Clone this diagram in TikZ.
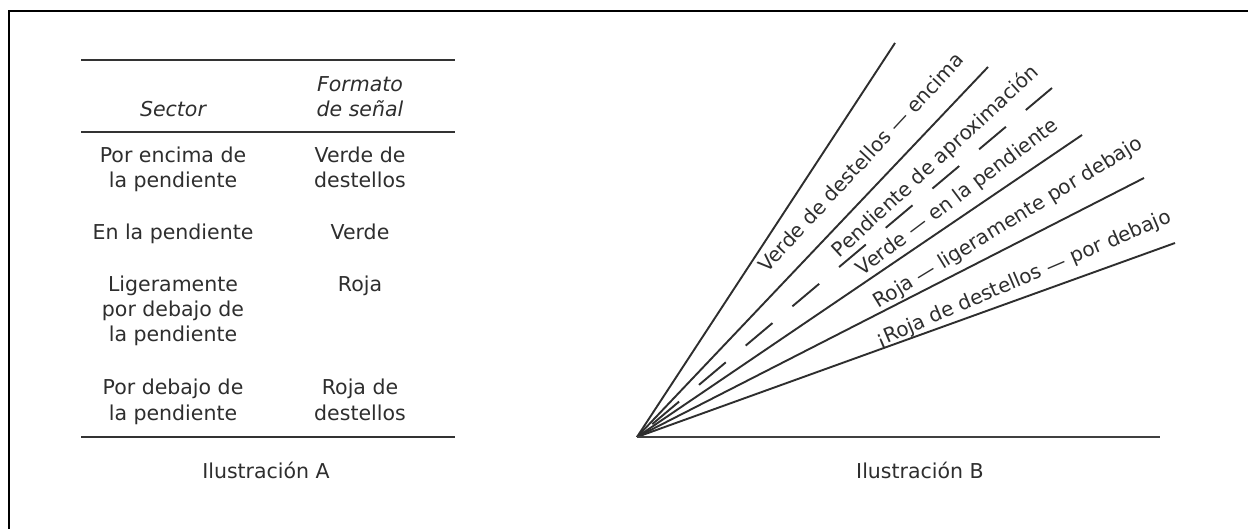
\documentclass[tikz,border=0pt]{standalone}
\usepackage{fontspec}
\setmainfont{DejaVu Sans}
\newcommand\stackedtext[1]{\begin{tabular}[t]{@{}c@{}}#1\end{tabular}}
\tikzset{
  txt/.style={inner sep=0pt, anchor=base, text=black!82,
              font=\fontsize{20.5}{25}\selectfont},
  hdr/.style={txt, font=\fontsize{20.5}{25}\selectfont\itshape},
  rule/.style={draw=black!80, line width=1.8pt},
  ray/.style={draw=black!82, line width=1.9pt},
  beam/.style={txt, anchor=base, font=\fontsize{20}{24}\selectfont},
  frame/.style={draw=black, line width=2.6pt}
}
\begin{document}
\begin{tikzpicture}[x=1pt,y=-1pt]
\useasboundingbox (0,0) rectangle (1248,529);
\fill[white] (0,0) rectangle (1248,529);

% page frame (top and left edges)
\coordinate (fb) at (9,529);
\coordinate (fc) at (9,11);
\coordinate (fr) at (1248,11);
\draw[frame] (fb) -- (fc) -- (fr);

% ---------- table ----------
\coordinate (t1l) at (81,60);   \coordinate (t1r) at (455,60);
\coordinate (t2l) at (81,132);  \coordinate (t2r) at (455,132);
\coordinate (t3l) at (81,437);  \coordinate (t3r) at (455,437);
\draw[rule] (t1l) -- (t1r);
\draw[rule] (t2l) -- (t2r);
\draw[rule] (t3l) -- (t3r);

\node[hdr] (hsec) at (173,117) {Sector};
\node[hdr] (hfmt) at (360,92) {\stackedtext{Formato\\de señal}};

\node[txt] (s1) at (173,163) {\stackedtext{Por encima de\\la pendiente}};
\node[txt] (f1) at (360,163) {\stackedtext{Verde de\\destellos}};
\node[txt] (s2) at (173,240) {En la pendiente};
\node[txt] (f2) at (360,240) {Verde};
\node[txt] (s3) at (173,292) {\stackedtext{Ligeramente\\por debajo de\\la pendiente}};
\node[txt] (f3) at (360,292) {Roja};
\node[txt] (s4) at (173,395) {\stackedtext{Por debajo de\\la pendiente}};
\node[txt] (f4) at (360,395) {\stackedtext{Roja de\\destellos}};

\node[txt] (capA) at (266,478) {Ilustración A};

% ---------- light sectors ----------
\coordinate (o)  at (637,437);
\coordinate (r1) at (895,43);
\coordinate (r2) at (988,67);
\coordinate (r3) at (1052,88);
\coordinate (r4) at (1082,135);
\coordinate (r5) at (1144,178);
\coordinate (r6) at (1175,243);
\coordinate (rb) at (1160,437);

\draw[ray] (o) -- (r1);
\draw[ray] (o) -- (r2);
\draw[ray, dash pattern=on 35pt off 26pt, dash phase=41pt] (o) -- (r3);
\draw[ray] (o) -- (r4);
\draw[ray] (o) -- (r5);
\draw[ray] (o) -- (r6);
\draw[ray, line width=2.3pt, draw=black!75] (o) -- (rb);

\node[beam, rotate=47] (b1) at (866,167) {Verde de destellos — encima};
\node[beam, rotate=42.6] (b2) at (940,166) {Pendiente de aproximación};
\node[beam, rotate=36.9] (b3) at (961,202) {Verde — en la pendiente};
\node[beam, rotate=31.4] (b4) at (1011,228) {Roja — ligeramente por debajo};
\node[beam, rotate=23.1] (b5) at (1026,284) {¡Roja de destellos — por debajo};

\node[txt] (capB) at (920,478) {Ilustración B};
\end{tikzpicture}
\end{document}
